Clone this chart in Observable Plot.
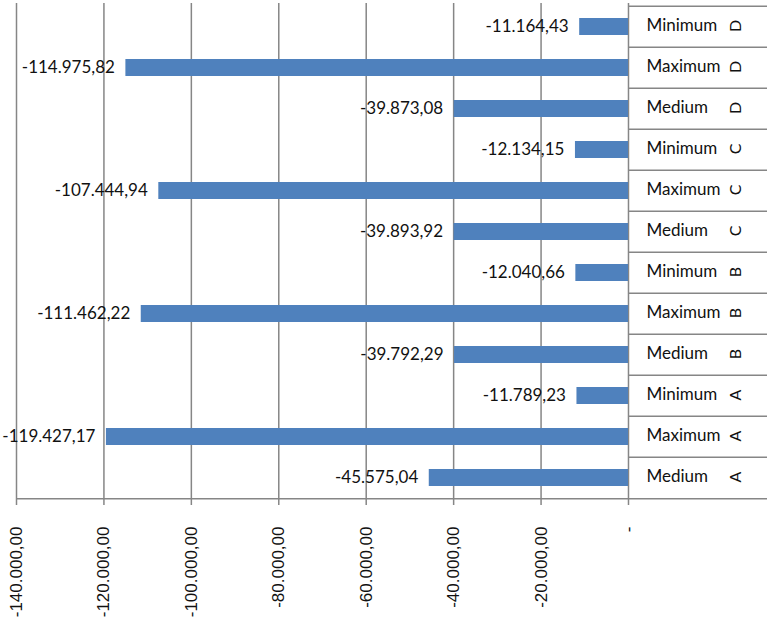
<!DOCTYPE html>
<html>
<head>
<meta charset="utf-8">
<script src="https://cdn.jsdelivr.net/npm/d3@7"></script>
<script src="https://cdn.jsdelivr.net/npm/@observablehq/plot@0.6"></script>
<style>
  html, body { margin: 0; padding: 0; background: #fff; }
</style>
</head>
<body>
<div id="chart"></div>
<script>
// ---- data ----
const groups = ["A", "B", "C", "D"];
const levels = ["Medium", "Maximum", "Minimum"];
const valuesA = [-45575.04, -119427.17, -11789.23];
const valuesB = [-39792.29, -111462.22, -12040.66];
const valuesC = [-39893.92, -107444.94, -12134.15];
const valuesD = [-39873.08, -114975.82, -11164.43];
const tickValues = [-140000, -120000, -100000, -80000, -60000, -40000, -20000, 0];

// ---- build table (bottom to top order) ----
const groupValues = [valuesA, valuesB, valuesC, valuesD];
const rows = [];
groups.forEach((g, gi) => {
  levels.forEach((l, li) => {
    rows.push({group: g, level: l, key: g + "|" + l, value: groupValues[gi][li]});
  });
});
const yOrder = rows.map(d => d.key).reverse(); // top to bottom

const loc = d3.formatLocale({decimal: ",", thousands: ".", grouping: [3], currency: ["", ""], minus: "-"});
const fmt2 = loc.format(",.2f");
const tickFmt = d => d === 0 ? "-" : fmt2(d);

const W = 770, H = 617;
const mTop = 3, mBottom = 117, mLeft = 16, mRight = 3;
const rowH = (H - mTop - mBottom) / rows.length;
const xDomain = [-140000, 31800];
const gridColor = "#868686";
const labelFont = "Lato, 'Open Sans', sans-serif";
const tickFont = "'Liberation Sans', Arial, sans-serif";

const chart = Plot.plot({
  width: W,
  height: H,
  marginTop: mTop,
  marginBottom: mBottom,
  marginLeft: mLeft,
  marginRight: mRight,
  x: {domain: xDomain},
  y: {domain: yOrder, padding: 0, axis: null},
  marks: [
    Plot.ruleX(tickValues, {stroke: gridColor, strokeWidth: 1.5}),
    // right panel separators (top edge of each row)
    Plot.ruleY(rows, {y: "key", x1: 0, x2: xDomain[1], dy: -rowH / 2, stroke: gridColor, strokeWidth: 1.5}),
    // horizontal axis line across the whole width
    Plot.ruleY(rows.slice(0, 1), {y: "key", dy: rowH / 2, stroke: gridColor, strokeWidth: 1.5}),
    Plot.barX(rows, {x: "value", y: "key", fill: "#4F81BD", insetTop: 12, insetBottom: 12}),
    Plot.text(rows, {x: "value", y: "key", text: d => fmt2(d.value), textAnchor: "end", dx: -11,
      fontSize: 17, fontFamily: labelFont, fill: "#111"}),
    Plot.text(rows, {x: () => 0, y: "key", text: "level", textAnchor: "start", dx: 18, dy: -1,
      fontSize: 17, fontFamily: labelFont, fill: "#111"}),
    Plot.text(rows, {x: () => 0, y: "key", text: "group", rotate: -90, dx: 107, dy: -1,
      fontSize: 16, fontFamily: labelFont, fill: "#111"}),
    Plot.axisX(tickValues, {tickSize: 5, tickPadding: 21, tickRotate: -90, tickFormat: tickFmt,
      stroke: gridColor, strokeWidth: 1.5, fill: "#111", fontSize: 17, fontFamily: tickFont, label: null})
  ]
});
document.getElementById("chart").appendChild(chart);
</script>
</body>
</html>
